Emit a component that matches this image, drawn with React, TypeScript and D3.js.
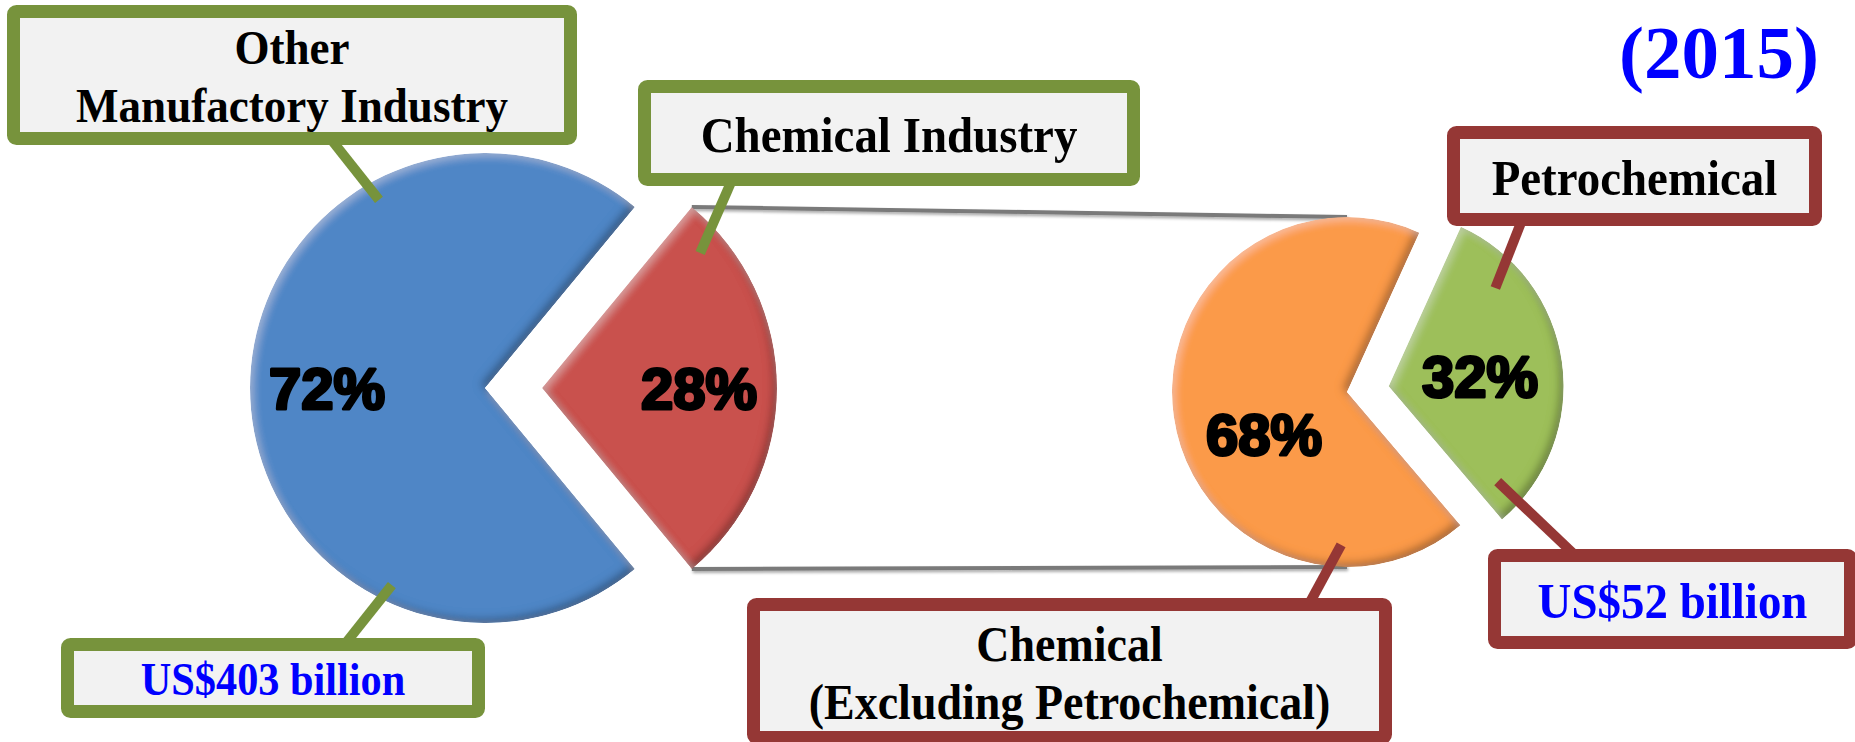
import React from "react";
import * as d3 from "d3";

// ---- data ----
const mainCategories = ["Other Manufactory Industry", "Chemical Industry"];
const mainShares = [72, 28];
const mainLabelLines = [["Other", "Manufactory Industry"], ["Chemical Industry"]];
const subCategories = ["Chemical (Excluding Petrochemical)", "Petrochemical"];
const subShares = [68, 32];
const subLabelLines = [["Chemical", "(Excluding Petrochemical)"], ["Petrochemical"]];
const totalLabels = ["US$403 billion", "US$52 billion"];
const yearLabel = "(2015)";

// ---- layout ----
const W = 1855;
const H = 742;
const DEG = Math.PI / 180;

const mainColors = ["#4F86C6", "#C9514E"];
const subColors = ["#FB9A48", "#9DBF5A"];
const GREEN_FRAME = "#77933C";
const RED_FRAME = "#953735";
const BOX_FILL = "#F2F2F2";

type PieSpec = {
  cx: number;
  cy: number;
  r: number;
  focusAngle: number; // direction (deg, clockwise from north) of the split-out slice
  explode: number;
  labelR: number[];
  labelShift: number[];
};

const MAIN: PieSpec = { cx: 485, cy: 388, r: 235, focusAngle: 90, explode: 57, labelR: [158, 157], labelShift: [0, 0] };
const SUB: PieSpec = { cx: 1347, cy: 392, r: 175, focusAngle: 82, explode: 42, labelR: [93, 92], labelShift: [-19, 1.5] };

const polar = (cx: number, cy: number, a: number, r: number): [number, number] => [
  cx + r * Math.sin(a),
  cy - r * Math.cos(a),
];

function layoutPie(values: number[], spec: PieSpec) {
  const total = d3.sum(values);
  const lastFrac = values[values.length - 1] / total;
  const end = spec.focusAngle * DEG + lastFrac * Math.PI;
  const arcs = d3.pie<number>().sort(null).startAngle(end - 2 * Math.PI).endAngle(end)(values);
  return arcs.map((a, i) => {
    const mid = (a.startAngle + a.endAngle) / 2;
    const origin: [number, number] =
      i === values.length - 1 ? polar(spec.cx, spec.cy, mid, spec.explode) : [spec.cx, spec.cy];
    return { arc: a, mid, origin };
  });
}

type Callout = {
  pie: "main" | "sub";
  slice: number;
  angle: number;
  r: number;
  end: [number, number];
  box: { x: number; y: number; w: number; h: number };
  lines: string[];
  textColor: string;
  size: number;
};

const callouts: Callout[] = [
  { pie: "main", slice: 0, angle: 330.6, r: 216, end: [330, 138], box: { x: 7, y: 5, w: 570, h: 140 }, lines: mainLabelLines[0], textColor: "#000", size: 49 },
  { pie: "main", slice: 0, angle: 205.3, r: 218, end: [345, 644], box: { x: 61, y: 638, w: 424, h: 80 }, lines: [totalLabels[0]], textColor: "#0000FF", size: 46 },
  { pie: "main", slice: 1, angle: 49.5, r: 208, end: [732, 180], box: { x: 638, y: 80, w: 502, h: 106 }, lines: mainLabelLines[1], textColor: "#000", size: 51 },
  { pie: "sub", slice: 1, angle: 47.4, r: 145, end: [1522, 220], box: { x: 1447, y: 126, w: 375, h: 100 }, lines: subLabelLines[1], textColor: "#000", size: 51 },
  { pie: "sub", slice: 1, angle: 131.2, r: 145, end: [1578, 558], box: { x: 1488, y: 549, w: 369, h: 100 }, lines: [totalLabels[1]], textColor: "#0000FF", size: 51 },
  { pie: "sub", slice: 0, angle: 182.2, r: 153, end: [1308, 606], box: { x: 747, y: 598, w: 645, h: 146 }, lines: subLabelLines[0], textColor: "#000", size: 50 },
];

const SERIF = "'Liberation Serif', 'Times New Roman', serif";
const SANS = "'Liberation Sans', Arial, sans-serif";

export default function App() {
  const mainArcs = layoutPie(mainShares, MAIN);
  const subArcs = layoutPie(subShares, SUB);

  const mainArcGen = d3.arc<d3.PieArcDatum<number>>().innerRadius(0).outerRadius(MAIN.r);
  const subArcGen = d3.arc<d3.PieArcDatum<number>>().innerRadius(0).outerRadius(SUB.r);

  // connector lines from the split slice's rim to the top and bottom of the second pie
  const focus = mainArcs[mainArcs.length - 1];
  const topStart = polar(focus.origin[0], focus.origin[1], focus.arc.startAngle, MAIN.r);
  const botStart = polar(focus.origin[0], focus.origin[1], focus.arc.endAngle, MAIN.r);
  const topEnd = polar(SUB.cx, SUB.cy, 0, SUB.r);
  const botEnd = polar(SUB.cx, SUB.cy, Math.PI, SUB.r);

  const line = d3.line();

  const renderPie = (
    arcs: ReturnType<typeof layoutPie>,
    gen: d3.Arc<any, d3.PieArcDatum<number>>,
    colors: string[],
    names: string[],
    key: string
  ) =>
    arcs.map((d, i) => (
      <path
        key={`${key}-${i}`}
        d={gen(d.arc) || ""}
        transform={`translate(${d.origin[0]},${d.origin[1]})`}
        fill={colors[i]}
        filter="url(#bevel)"
      >
        <title>{names[i]}</title>
      </path>
    ));

  const renderPct = (arcs: ReturnType<typeof layoutPie>, spec: PieSpec, values: number[], key: string) =>
    arcs.map((d, i) => {
      const [x, y] = polar(d.origin[0], d.origin[1], d.mid + spec.labelShift[i] * DEG, spec.labelR[i]);
      return (
        <text
          key={`${key}-pct-${i}`}
          x={x}
          y={y + 21}
          textAnchor="middle"
          fontFamily={SANS}
          fontWeight="bold"
          fontSize={58}
          fill="#000"
          stroke="#000"
          strokeWidth={3}
          strokeLinejoin="round"
        >
          {`${values[i]}%`}
        </text>
      );
    });

  return (
    <svg
      width={W}
      height={H}
      viewBox={`0 0 ${W} ${H}`}
      style={{ position: "absolute", left: 0, top: 0, background: "#fff" }}
    >
      <defs>
        {/* soft edge bevel for the slices (region in local coords, slices are translated) */}
        <filter id="bevel" filterUnits="userSpaceOnUse" x={-W} y={-H} width={2 * W} height={2 * H}>
          <feGaussianBlur in="SourceAlpha" stdDeviation="4" result="b" />
          <feOffset in="b" dx="-4" dy="-4" result="bUL" />
          <feComposite in="SourceAlpha" in2="bUL" operator="arithmetic" k2="1" k3="-1" result="rimDR" />
          <feFlood floodColor="#000" floodOpacity="0.6" />
          <feComposite in2="rimDR" operator="in" result="shadeDR" />
          <feOffset in="b" dx="3" dy="3" result="bDR" />
          <feComposite in="SourceAlpha" in2="bDR" operator="arithmetic" k2="1" k3="-1" result="rimUL" />
          <feFlood floodColor="#fff" floodOpacity="0.3" />
          <feComposite in2="rimUL" operator="in" result="shadeUL" />
          <feMerge>
            <feMergeNode in="SourceGraphic" />
            <feMergeNode in="shadeDR" />
            <feMergeNode in="shadeUL" />
          </feMerge>
          <feComposite in2="SourceAlpha" operator="in" />
        </filter>
        <filter id="lineShadow" filterUnits="userSpaceOnUse" x={0} y={0} width={W} height={H}>
          <feGaussianBlur in="SourceAlpha" stdDeviation="1.5" />
          <feOffset dx="1" dy="2" />
          <feComponentTransfer>
            <feFuncA type="linear" slope="0.35" />
          </feComponentTransfer>
          <feMerge>
            <feMergeNode />
            <feMergeNode in="SourceGraphic" />
          </feMerge>
        </filter>
      </defs>

      {/* connector lines between the two pies */}
      <g stroke="#7A7A7A" strokeWidth={4} fill="none" filter="url(#lineShadow)">
        <path d={line([topStart, topEnd]) || ""} />
        <path d={line([botStart, botEnd]) || ""} />
      </g>

      {renderPie(mainArcs, mainArcGen, mainColors, mainCategories, "main")}
      {renderPie(subArcs, subArcGen, subColors, subCategories, "sub")}

      {renderPct(mainArcs, MAIN, mainShares, "main")}
      {renderPct(subArcs, SUB, subShares, "sub")}

      {/* callout leaders */}
      {callouts.map((c, i) => {
        const arcs = c.pie === "main" ? mainArcs : subArcs;
        const o = arcs[c.slice].origin;
        const start = polar(o[0], o[1], c.angle * DEG, c.r);
        return (
          <path
            key={`lead-${i}`}
            d={line([start, c.end]) || ""}
            stroke={c.pie === "main" ? GREEN_FRAME : RED_FRAME}
            strokeWidth={10}
            fill="none"
          />
        );
      })}

      {/* callout boxes */}
      {callouts.map((c, i) => {
        const sw = 13;
        const frame = c.pie === "main" ? GREEN_FRAME : RED_FRAME;
        const cx = c.box.x + c.box.w / 2;
        const cy = c.box.y + c.box.h / 2;
        const lh = 58;
        const cap = c.size * 0.662;
        return (
          <g key={`box-${i}`}>
            <rect
              x={c.box.x + sw / 2}
              y={c.box.y + sw / 2}
              width={c.box.w - sw}
              height={c.box.h - sw}
              rx={3}
              fill={BOX_FILL}
              stroke={frame}
              strokeWidth={sw}
            />
            {c.lines.map((t, j) => {
              const by = cy + (j - (c.lines.length - 1) / 2) * lh + cap / 2 + 2;
              return (
                <text
                  key={j}
                  transform={`translate(${cx},${by}) scale(0.92,1)`}
                  textAnchor="middle"
                  fontFamily={SERIF}
                  fontWeight="bold"
                  fontSize={c.size}
                  fill={c.textColor}
                >
                  {t}
                </text>
              );
            })}
          </g>
        );
      })}

      <text
        x={1819}
        y={78}
        textAnchor="end"
        fontFamily={SERIF}
        fontWeight="bold"
        fontSize={75}
        fill="#0000FF"
      >
        {yearLabel}
      </text>
    </svg>
  );
}
